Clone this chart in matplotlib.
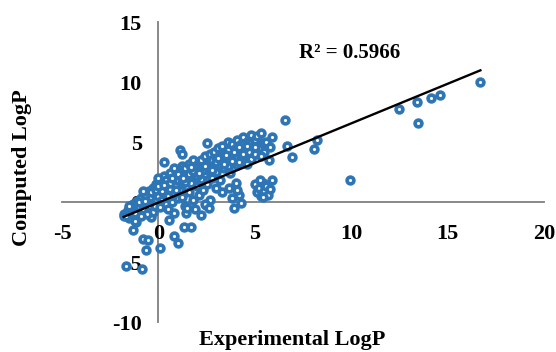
import numpy as np
import matplotlib.pyplot as plt

# experimental vs computed logP
exp_logp = [
    16.7, 14.6, 14.15, 13.4, 12.5, 13.45, 9.95, 8.25, 8.05, 6.95, 6.65, 6.55,
    -1.77, -1.34, -0.82, -0.56, -0.65, 0.1, 0.82, 1.03, -1.68, -0.87, 0.56, 1.34,
    1.68, 1.42, 2.2, 2.46, -0.39, -1.17,
    -1.8, -1.6, -1.5, -1.4, -1.3, -1.2, -1.1, -1.0, -1.2, -1.7,
    -0.9, -0.8, -0.7, -0.6, -0.5, -0.5, -0.4, -0.3, -0.3, -0.2, -0.1, -0.1, -0.8, -0.6, -0.2, -0.9,
    0.0, 0.1, 0.1, 0.2, 0.2, 0.3, 0.3, 0.4, 0.4, 0.5, 0.5, 0.6, 0.6, 0.7, 0.7, 0.8, 0.8, 0.9, 0.9, 1.0,
    0.3, 0.0, 0.5, 0.8,
    1.0, 1.1, 1.1, 1.2, 1.2, 1.3, 1.3, 1.4, 1.4, 1.5, 1.5, 1.6, 1.6, 1.7, 1.7, 1.8, 1.8, 1.9, 1.9, 2.0,
    1.1, 1.2, 1.5, 1.9,
    2.0, 2.1, 2.1, 2.2, 2.2, 2.3, 2.3, 2.4, 2.4, 2.5, 2.5, 2.6, 2.6, 2.7, 2.7, 2.8, 2.8, 2.9, 2.9, 3.0,
    2.4, 2.6,
    3.0, 3.1, 3.1, 3.2, 3.2, 3.3, 3.3, 3.4, 3.5, 3.5, 3.6, 3.6, 3.7, 3.7, 3.8, 3.8, 3.9, 4.0, 4.0, 3.4,
    3.0, 3.3,
    4.1, 4.1, 4.2, 4.3, 4.3, 4.4, 4.5, 4.5, 4.6, 4.7, 4.8, 4.8, 4.9, 5.0, 5.0, 4.6,
    5.1, 5.2, 5.3, 5.4, 5.5, 5.6, 5.75, 5.9, 5.8, 5.3,
    5.0, 5.1, 5.2, 5.3, 5.4, 5.5, 5.6, 5.7, 5.8, 5.9, 5.45, 5.25,
    3.67, 4.0, 4.19, 3.93, 4.27, 3.8, 4.1,
    # denser middle of the cloud
    -1.5, -1.0, -0.7, -0.4, -0.1, 0.2, 0.4, 0.6, 0.9, 1.2, 1.4, 1.6, 1.8, 2.0, 2.3, 2.5,
    2.7, 3.0, 3.2, 3.4, 3.6, 3.9, 4.2, 4.4, 4.7, 0.0, 0.3, 0.7, 1.0, 1.3, 1.7, 2.1,
    2.4, 2.8, 3.1, 3.5, 3.8, 4.2, 4.6, 5.0,
]
comp_logp = [
    10.0, 8.9, 8.7, 8.35, 7.75, 6.6, 1.83, 5.17, 4.4, 3.72, 4.67, 6.83,
    -1.17, -2.33, -3.1, -3.17, -4.0, -3.8, -2.83, -3.4, -5.33, -5.6, -1.5, -2.05,
    -2.05, -0.95, -1.08, -0.25, -1.22, -1.64,
    -1.0, -0.7, -1.3, -0.5, -0.2, -0.9, 0.1, -0.4, -1.6, -1.2,
    0.3, -0.6, 0.6, 0.0, 0.9, -0.3, 0.4, 1.2, -0.8, 0.7, 0.2, 1.5, 0.9, -1.0, -0.3, -1.2,
    0.5, 1.0, -0.4, 1.6, 0.2, 2.2, 0.8, -0.2, 1.3, 1.9, 0.5, 2.4, 1.1, 0.0, 1.7, 2.8, 0.7, 1.4, 2.1, 0.3,
    3.3, 2.0, -0.6, -0.9,
    1.8, 2.5, 1.0, 3.0, 0.4, 1.5, 2.2, 2.8, -0.3, 1.2, 2.0, 3.2, 0.8, 2.5, 1.6, 3.5, 0.2, 2.1, 2.9, 1.3,
    4.3, 4.0, -0.5, -0.6,
    2.6, 3.3, 0.6, 1.9, 3.5, 2.9, 1.0, 3.8, 2.3, 4.9, 1.5, 3.2, 2.6, 4.0, 0.2, 3.5, 2.0, 4.2, 2.9, 3.7,
    -0.2, -0.5,
    2.5, 4.5, 3.1, 3.9, 1.8, 4.7, 3.4, 2.8, 4.2, 3.6, 5.0, 3.0, 4.4, 2.4, 3.9, 4.8, 3.3, 4.5, 3.7, 4.0,
    1.2, 0.8,
    5.2, 3.1, 4.1, 4.8, 3.5, 5.4, 4.4, 3.8, 5.0, 4.2, 5.6, 3.6, 4.7, 5.2, 4.0, 3.2,
    5.5, 4.5, 5.75, 4.9, 4.2, 5.0, 3.5, 5.45, 4.6, 3.8,
    1.5, 0.8, 1.2, 0.5, 1.6, 0.9, 1.3, 0.6, 1.1, 1.83, 0.4, 1.8,
    1.14, 1.55, 0.58, -0.53, -0.1, 0.3, 1.0,
    -0.3, 0.0, 0.1, 0.8, 1.0, 0.9, 1.8, 1.6, 1.0, 1.9, 1.7, 2.3, 2.6, 2.2, 2.7, 3.0,
    2.9, 3.3, 3.6, 3.2, 4.3, 4.2, 4.6, 4.0, 4.9, 1.3, 1.4, 2.0, 2.3, 2.0, 2.9, 2.4,
    3.0, 2.7, 3.7, 3.9, 3.4, 3.3, 4.7, 4.6,
]

# excel linear trendline
trend_slope = 0.66
trend_intercept = -0.05
r2_label = "R² = 0.5966"

plt.rcParams['font.family'] = 'Liberation Serif'
plt.rcParams['font.weight'] = 'bold'
plt.rcParams['axes.unicode_minus'] = False

fig = plt.figure(figsize=(5.56, 3.52), dpi=100)
ax = fig.add_axes([62/556, 1 - 322/352, (544 - 62)/556, 300/352])

ax.scatter(exp_logp, comp_logp, s=24, facecolors='white', edgecolors='#2E75B6',
           linewidths=2.6, zorder=3)

xs = np.array([min(exp_logp), max(exp_logp)])
ax.plot(xs, trend_slope * xs + trend_intercept, color='black', linewidth=1.7, zorder=4)

ax.set_xlim(-5, 20)
ax.set_ylim(-10, 15)
ax.set_xticks([-5, 0, 5, 10, 15, 20])
ax.set_yticks([-10, -5, 0, 5, 10, 15])

# axes cross at the origin like excel
ax.spines['left'].set_position(('data', 0))
ax.spines['bottom'].set_position(('data', 0))
ax.spines['top'].set_visible(False)
ax.spines['right'].set_visible(False)
for s in ['left', 'bottom']:
    ax.spines[s].set_color('#7f7f7f')
    ax.spines[s].set_linewidth(1.3)
    ax.spines[s].set_zorder(1)

ax.tick_params(axis='x', length=0, pad=16, labelsize=16)
ax.tick_params(axis='y', length=0, pad=12, labelsize=16)

ax.text(9.9, 12.4, r2_label, fontsize=15, fontweight='bold', ha='center', va='center')

fig.text(292/556, 1 - 340/352, "Experimental LogP", fontsize=16, fontweight='bold',
         ha='center', va='center')
fig.text(22/556, 1 - 168/352, "Computed LogP", fontsize=16, fontweight='bold',
         ha='center', va='center', rotation=90)

fig.savefig('out.png', dpi=100)
